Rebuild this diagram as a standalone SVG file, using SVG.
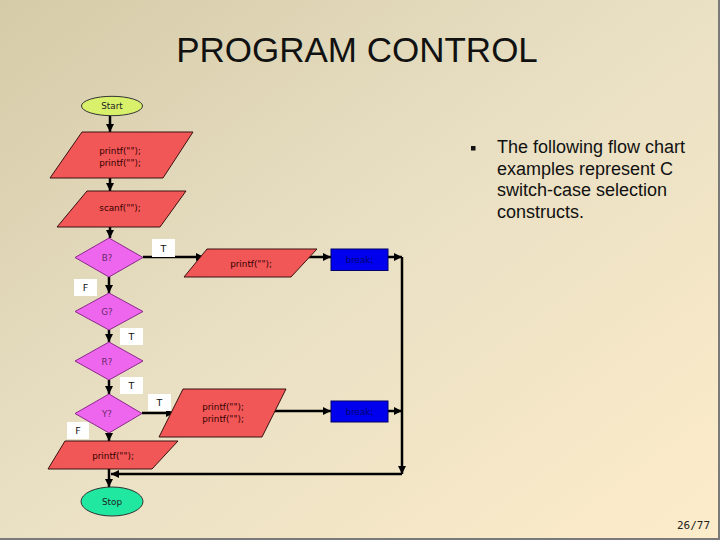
<svg xmlns="http://www.w3.org/2000/svg" width="720" height="540" viewBox="0 0 720 540">
  <defs>
    <linearGradient id="bg" x1="0" y1="0" x2="1" y2="1">
      <stop offset="0" stop-color="#d5cba8"/>
      <stop offset="0.45" stop-color="#e8dfc3"/>
      <stop offset="1" stop-color="#fdecca"/>
    </linearGradient>
    <marker id="arr" markerUnits="userSpaceOnUse" markerWidth="9" markerHeight="8" refX="8" refY="4" orient="auto">
      <path d="M0,0 L8,4 L0,8 z" fill="#000"/>
    </marker>
    <style>
      .lbl { font-family: "DejaVu Sans", "Liberation Sans", sans-serif; font-size: 8.8px; text-anchor: middle; }
      .term { stroke: #333; stroke-width: 1; }
      .io { fill: #f25757; stroke: #3a1010; stroke-width: 1; }
      .io-t { fill: #330000; }
      .dec { fill: #ee66ee; stroke: #8a2a8a; stroke-width: 1; }
      .dec-t { fill: #6a2a6a; }
      .brk { fill: #0000ee; stroke: #000066; stroke-width: 1; }
      .brk-t { fill: #000070; }
      .conn { stroke: #000; stroke-width: 2.5; fill: none; }
      .tag { fill: #fff; }
      .tag-t { fill: #111; font-family: "DejaVu Sans", "Liberation Sans", sans-serif; font-size: 9.5px; text-anchor: middle; }
    </style>
  </defs>

  <rect x="0" y="0" width="720" height="540" fill="url(#bg)"/>
  <line x1="0" y1="539" x2="720" y2="539" stroke="#7a7a7a" stroke-width="2"/>
  <line x1="719" y1="0" x2="719" y2="540" stroke="#7a7a7a" stroke-width="2"/>

  <text x="357" y="62" font-family="Liberation Sans, Arial, sans-serif" font-size="35" text-anchor="middle" fill="#111">PROGRAM CONTROL</text>

  <rect x="471" y="146" width="4.5" height="4.5" fill="#111"/>
  <text font-family="Liberation Sans, Arial, sans-serif" font-size="18" fill="#111">
    <tspan x="497" y="153">The following flow chart</tspan>
    <tspan x="497" y="174.5">examples represent C</tspan>
    <tspan x="497" y="196">switch-case selection</tspan>
    <tspan x="497" y="217.5">constructs.</tspan>
  </text>

  <text x="677" y="529" font-family="DejaVu Sans Mono, Liberation Mono, monospace" font-size="11" fill="#222">26/77</text>

  <g id="connectors">
    <line class="conn" x1="110" y1="116" x2="110" y2="132" marker-end="url(#arr)"/>
    <line class="conn" x1="110" y1="178" x2="110" y2="191" marker-end="url(#arr)"/>
    <line class="conn" x1="110" y1="227" x2="110" y2="238" marker-end="url(#arr)"/>
    <line class="conn" x1="109" y1="277" x2="109" y2="293" marker-end="url(#arr)"/>
    <line class="conn" x1="109" y1="330" x2="109" y2="342" marker-end="url(#arr)"/>
    <line class="conn" x1="109" y1="380" x2="109" y2="394" marker-end="url(#arr)"/>
    <line class="conn" x1="109" y1="433" x2="109" y2="441" marker-end="url(#arr)"/>
    <line class="conn" x1="109" y1="469" x2="109" y2="487" marker-end="url(#arr)"/>
    <line class="conn" x1="143" y1="257" x2="204" y2="257" marker-end="url(#arr)"/>
    <line class="conn" x1="304" y1="257" x2="331" y2="257" marker-end="url(#arr)"/>
    <line class="conn" x1="388" y1="257" x2="402" y2="257" marker-end="url(#arr)"/>
    <line class="conn" x1="402" y1="257" x2="402" y2="474" marker-end="url(#arr)"/>
    <line class="conn" x1="402" y1="474" x2="111" y2="474" marker-end="url(#arr)"/>
    <line class="conn" x1="142" y1="413" x2="174" y2="413" marker-end="url(#arr)"/>
    <line class="conn" x1="272" y1="411" x2="331" y2="411" marker-end="url(#arr)"/>
    <line class="conn" x1="388" y1="411" x2="402" y2="411" marker-end="url(#arr)"/>

    <rect class="tag" x="152" y="239" width="23" height="18"/>
    <text class="tag-t" x="163.5" y="251.5">T</text>
    <rect class="tag" x="74" y="279" width="23" height="17"/>
    <text class="tag-t" x="85.5" y="291">F</text>
    <rect class="tag" x="120" y="328" width="23" height="17"/>
    <text class="tag-t" x="131.5" y="340">T</text>
    <rect class="tag" x="120" y="377" width="23" height="17"/>
    <text class="tag-t" x="131.5" y="389">T</text>
    <rect class="tag" x="148" y="394" width="23" height="17"/>
    <text class="tag-t" x="159.5" y="406">T</text>
    <rect class="tag" x="67" y="422" width="22" height="17"/>
    <text class="tag-t" x="78" y="434">F</text>
  </g>

  <g id="start">
    <ellipse class="term" cx="112" cy="106" rx="30.5" ry="9.7" fill="#d8f06a"/>
    <text class="lbl" x="112" y="109" fill="#222">Start</text>
  </g>

  <g id="print1">
    <polygon class="io" points="82,132 193,132 163,178 50,178"/>
    <text class="lbl io-t" x="120" y="154">printf("");</text>
    <text class="lbl io-t" x="120" y="166">printf("");</text>
  </g>

  <g id="scan">
    <polygon class="io" points="87,191 186,191 160,227 57,227"/>
    <text class="lbl io-t" x="120" y="211">scanf("");</text>
  </g>

  <g id="decB">
    <polygon class="dec" points="109,238 143,257.5 109,277 75,257.5"/>
    <text class="lbl dec-t" x="107" y="261">B?</text>
  </g>

  <g id="decG">
    <polygon class="dec" points="109,293 143,311.5 109,330 75,311.5"/>
    <text class="lbl dec-t" x="107" y="315">G?</text>
  </g>

  <g id="decR">
    <polygon class="dec" points="109,342 143,361 109,380 75,361"/>
    <text class="lbl dec-t" x="107" y="364.5">R?</text>
  </g>

  <g id="decY">
    <polygon class="dec" points="109,394 142,413.5 109,433 75,413.5"/>
    <text class="lbl dec-t" x="107" y="417">Y?</text>
  </g>

  <g id="printB">
    <polygon class="io" points="207,249 317,249 291,277 184,277"/>
    <text class="lbl io-t" x="251" y="267">printf("");</text>
  </g>

  <g id="break1">
    <rect class="brk" x="331" y="249" width="57" height="21.5"/>
    <text class="lbl brk-t" x="359.5" y="263">break;</text>
  </g>

  <g id="printY">
    <polygon class="io" points="183,389 286,389 262,437 159,437"/>
    <text class="lbl io-t" x="223" y="410">printf("");</text>
    <text class="lbl io-t" x="223" y="422">printf("");</text>
  </g>

  <g id="break2">
    <rect class="brk" x="331" y="401" width="57" height="21"/>
    <text class="lbl brk-t" x="359.5" y="414.5">break;</text>
  </g>

  <g id="printF">
    <polygon class="io" points="65,441 178,441 152,469 48,469"/>
    <text class="lbl io-t" x="113" y="459">printf("");</text>
  </g>

  <g id="stop">
    <ellipse class="term" cx="112" cy="501.5" rx="31" ry="14.5" fill="#20e8a0"/>
    <text class="lbl" x="112" y="505" fill="#222">Stop</text>
  </g>
</svg>
